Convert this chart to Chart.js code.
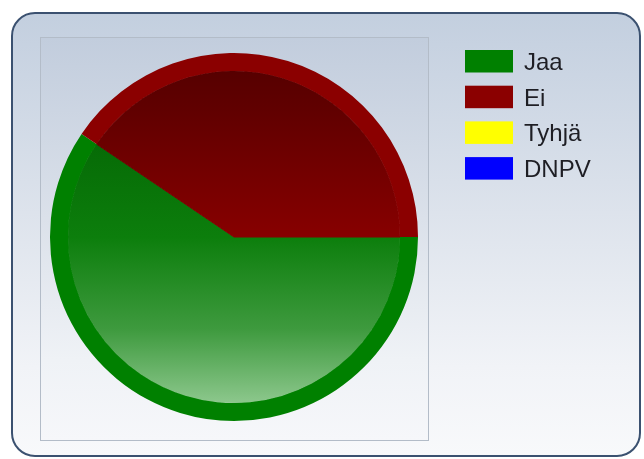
<!DOCTYPE html>
<html>
<head>
<meta charset="utf-8">
<script src="https://cdn.jsdelivr.net/npm/chart.js@4/dist/chart.umd.min.js"></script>
<style>
  html, body { margin:0; padding:0; background:#ffffff; }
  #wrap { position:relative; width:644px; height:459px; overflow:hidden; background:#fff; }
  #frame { position:absolute; left:11px; top:12px; width:626px; height:441px;
           border:2px solid #3b5170; border-radius:24px;
           background:linear-gradient(to bottom, #c3cfdf 0%, #dde3ec 45%, #f1f3f7 80%, #f8f9fb 100%); }
  #plotbox { position:absolute; left:40px; top:37px; width:387px; height:402px;
             border:1px solid #b3bcc8;
             background:linear-gradient(to bottom, #c2cddd 0%, #dbe1ea 45%, #eff2f6 80%, #f6f7fa 100%); }
  #c { position:absolute; left:0; top:0; }
</style>
</head>
<body>
<div id="wrap">
  <div id="frame"></div>
  <div id="plotbox"></div>
  <canvas id="c" width="644" height="459"></canvas>
</div>
<script>
const categories = ["Jaa", "Ei", "Tyhjä", "DNPV"];
const votes = [110, 75, 0, 0];
const colors = ["#008000", "#8b0000", "#ffff00", "#0000ff"];

function innerFill(ctx) {
  const chart = ctx.chart;
  const area = chart.chartArea;
  const i = ctx.dataIndex;
  if (!area) return colors[i];
  const g = chart.ctx.createLinearGradient(0, area.top, 0, area.bottom);
  if (i === 0) {
    g.addColorStop(0, "#005800");
    g.addColorStop(0.5, "#0c7e0c");
    g.addColorStop(0.75, "#3e9a3e");
    g.addColorStop(0.95, "#8cc78c");
    g.addColorStop(1, "#8cc78c");
  } else if (i === 1) {
    g.addColorStop(0, "#520000");
    g.addColorStop(0.15, "#600000");
    g.addColorStop(0.5, "#870000");
    g.addColorStop(1, "#8b0000");
  } else {
    return colors[i];
  }
  return g;
}

function innerBorder(ctx) {
  const v = ctx.dataset.data[ctx.dataIndex];
  if (!v) return "rgba(0,0,0,0)";
  return innerFill(ctx);
}

const legendPlugin = {
  id: "sideLegend",
  afterDraw(chart) {
    const c = chart.ctx;
    const labels = chart.data.labels;
    const cols = chart.data.datasets[0].backgroundColor;
    c.save();
    c.font = '24px "Liberation Sans", Arial, sans-serif';
    c.textBaseline = "alphabetic";
    labels.forEach((lab, i) => {
      const y = 50 + i * 35.7;
      c.fillStyle = cols[i];
      c.fillRect(465, y, 48, 22.5);
      c.fillStyle = "#1e1e24";
      c.fillText(lab, 524, y + 11.25 + 8.6);
    });
    c.restore();
  }
};

new Chart(document.getElementById("c"), {
  type: "pie",
  data: {
    labels: categories,
    datasets: [
      { data: votes, backgroundColor: colors, borderWidth: 0, weight: 18 },
      { data: votes, backgroundColor: innerFill, borderColor: innerBorder, borderWidth: 1, weight: 166 }
    ]
  },
  options: {
    responsive: false,
    animation: false,
    events: [],
    rotation: 90,
    layout: { padding: { left: 50, top: 53, right: 226, bottom: 38 } },
    plugins: { legend: { display: false }, tooltip: { enabled: false } }
  },
  plugins: [legendPlugin]
});
</script>
</body>
</html>
